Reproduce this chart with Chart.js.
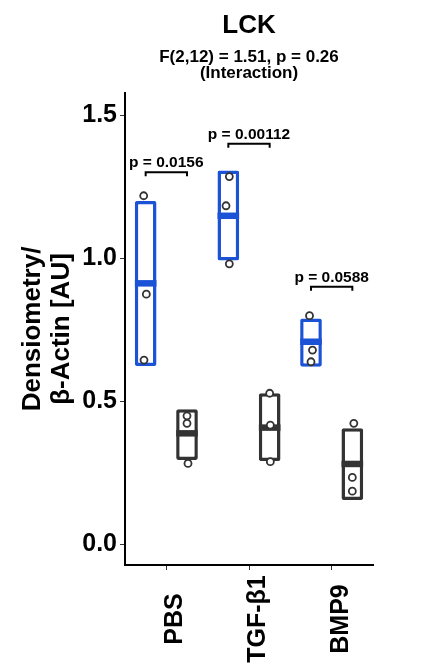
<!DOCTYPE html>
<html>
<head>
<meta charset="utf-8">
<title>LCK</title>
<script src="https://cdn.jsdelivr.net/npm/chart.js@4/dist/chart.umd.min.js"></script>
<style>
    html, body { margin: 0; padding: 0; background: #fff; }
    canvas { display: block; }
</style>
</head>
<body>
<canvas id="chart" width="434" height="664"></canvas>
<script>
// values
const categories = ["PBS", "TGF-β1", "BMP9"];
const yTicks = [0, 0.5, 1.0, 1.5];

const blueMin = [0.623, 0.992, 0.621];
const blueMax = [1.200, 1.306, 0.789];
const blueMedian = [0.912, 1.148, 0.708];
const bluePoints = [[1.218, 0.874, 0.644], [1.285, 1.183, 0.980], [0.799, 0.679, 0.638]];
const blueJitter = [[-0.024, 0.008, -0.020], [0.012, -0.028, 0.012], [-0.018, 0.018, 0]];

const grayMin = [0.295, 0.291, 0.155];
const grayMax = [0.472, 0.528, 0.406];
const grayMedian = [0.388, 0.408, 0.281];
const grayPoints = [[0.449, 0.423, 0.283], [0.528, 0.417, 0.289], [0.423, 0.234, 0.186]];
const grayJitter = [[0, 0, 0.012], [0, 0.008, 0.008], [0.018, 0, 0]];

const pLabels = ["p = 0.0156", "p = 0.00112", "p = 0.0588"];
const bracketY = [1.30, 1.40, 0.90];

const BLUE = "#1c53d6";
const GRAY = "#333333";
const FONT = "'Liberation Sans', Arial, Helvetica, sans-serif";

Chart.defaults.font.family = FONT;
Chart.defaults.color = "#000";

// x is a linear axis with one unit per category; the two groups of each
// category sit a quarter unit either side of it
const boxData = (lo, hi) => categories.map((c, i) => ({ x: i, y: [lo[i], hi[i]] }));
const medianData = (med, side) => med.map((m, i) => ({ x: i + side, y: m }));
const pointData = (pts, jit, side) => {
    let out = [];
    pts.forEach((vals, i) => {
        vals.forEach((v, j) => out.push({ x: i + side + jit[i][j], y: v }));
    });
    return out;
};

const pointStyle = {
    type: "scatter",
    pointRadius: 3.5,
    pointHoverRadius: 3.5,
    pointBorderWidth: 1.8,
    pointBorderColor: GRAY,
    pointBackgroundColor: "#fff"
};

const medianStyle = (color) => ({
    type: "scatter",
    pointStyle: "line",
    pointRadius: 10.8,
    pointHoverRadius: 10.8,
    pointBorderWidth: 6.5,
    pointBorderColor: color,
    pointBackgroundColor: color
});

const annotations = {
    id: "annotations",
    afterDraw(chart) {
        const ctx = chart.ctx;
        const x = chart.scales.x;
        const y = chart.scales.y;
        const blueBars = chart.getDatasetMeta(4).data;
        const grayBars = chart.getDatasetMeta(5).data;
        ctx.save();

        // category labels, turned 90 degrees and centred under the axis
        ctx.fillStyle = "#000";
        ctx.font = "bold 25px " + FONT;
        ctx.textAlign = "center";
        ctx.textBaseline = "middle";
        categories.forEach((c, i) => {
            ctx.save();
            ctx.translate(x.getPixelForValue(i) + 9, x.top + 54);
            ctx.rotate(-Math.PI / 2);
            ctx.fillText(c, 0, 0);
            ctx.restore();
        });

        // significance brackets
        ctx.strokeStyle = "#000";
        ctx.lineWidth = 2;
        ctx.font = "bold 15.5px " + FONT;
        ctx.textBaseline = "alphabetic";
        categories.forEach((c, i) => {
            const x0 = blueBars[i].x;
            const x1 = grayBars[i].x;
            const py = y.getPixelForValue(bracketY[i]);
            ctx.beginPath();
            ctx.moveTo(x0, py + 4);
            ctx.lineTo(x0, py);
            ctx.lineTo(x1, py);
            ctx.lineTo(x1, py + 4);
            ctx.stroke();
            ctx.fillText(pLabels[i], x.getPixelForValue(i), py - 5);
        });
        ctx.restore();
    }
};

new Chart("chart", {
    type: "bar",
    data: {
        datasets: [
            Object.assign({ label: "blue points", data: pointData(bluePoints, blueJitter, -0.25) }, pointStyle),
            Object.assign({ label: "gray points", data: pointData(grayPoints, grayJitter, 0.25) }, pointStyle),
            Object.assign({ label: "blue median", data: medianData(blueMedian, -0.25) }, medianStyle(BLUE)),
            Object.assign({ label: "gray median", data: medianData(grayMedian, 0.25) }, medianStyle(GRAY)),
            {
                label: "blue",
                data: boxData(blueMin, blueMax),
                backgroundColor: "#fff",
                borderColor: BLUE,
                borderWidth: 3.5,
                borderRadius: 2,
                borderSkipped: false,
                categoryPercentage: 1.0,
                barPercentage: 0.525
            },
            {
                label: "gray",
                data: boxData(grayMin, grayMax),
                backgroundColor: "#fff",
                borderColor: GRAY,
                borderWidth: 3.5,
                borderRadius: 2,
                borderSkipped: false,
                categoryPercentage: 1.0,
                barPercentage: 0.525
            }
        ]
    },
    options: {
        responsive: false,
        animation: false,
        devicePixelRatio: 1,
        layout: { padding: { left: 0, right: 61, top: 0, bottom: 0 } },
        plugins: {
            legend: { display: false },
            tooltip: { enabled: false },
            title: {
                display: true,
                text: "LCK",
                fullSize: false,
                color: "#000",
                font: { size: 26, weight: "bold", lineHeight: 1.2 },
                padding: { top: 10, bottom: 0 }
            },
            subtitle: {
                display: true,
                text: ["F(2,12) = 1.51, p = 0.26", "(Interaction)"],
                fullSize: false,
                color: "#000",
                font: { size: 17, weight: "bold", lineHeight: 0.976 },
                padding: { top: 7.4, bottom: 11.2 }
            }
        },
        scales: {
            x: {
                type: "linear",
                offset: false,
                min: -0.5,
                max: 2.5,
                afterBuildTicks: (scale) => {
                    scale.ticks = categories.map((c, i) => ({ value: i }));
                },
                border: { display: true, color: "#000", width: 2 },
                grid: {
                    display: true,
                    offset: false,
                    drawOnChartArea: false,
                    drawTicks: true,
                    tickLength: 5,
                    tickWidth: 1,
                    tickColor: GRAY
                },
                ticks: { display: false },
                afterFit: (scale) => { scale.height = 99; }
            },
            y: {
                type: "linear",
                min: -0.072,
                max: 1.577,
                afterBuildTicks: (scale) => {
                    scale.ticks = yTicks.map(v => ({ value: v }));
                },
                border: { display: true, color: "#000", width: 2 },
                grid: {
                    display: true,
                    drawOnChartArea: false,
                    drawTicks: true,
                    tickLength: 5,
                    tickWidth: 1,
                    tickColor: GRAY
                },
                ticks: {
                    padding: 3,
                    color: "#000",
                    font: { size: 25, weight: "bold" },
                    callback: (v) => Number(v).toFixed(1)
                },
                title: {
                    display: true,
                    text: ["Densiometry/", "β-Actin [AU]"],
                    color: "#000",
                    font: { size: 26, weight: "bold", lineHeight: 1.1 },
                    padding: { top: 18.5, bottom: 0 }
                },
                afterFit: (scale) => { scale.width = 125; }
            }
        }
    },
    plugins: [annotations]
});
</script>
</body>
</html>
